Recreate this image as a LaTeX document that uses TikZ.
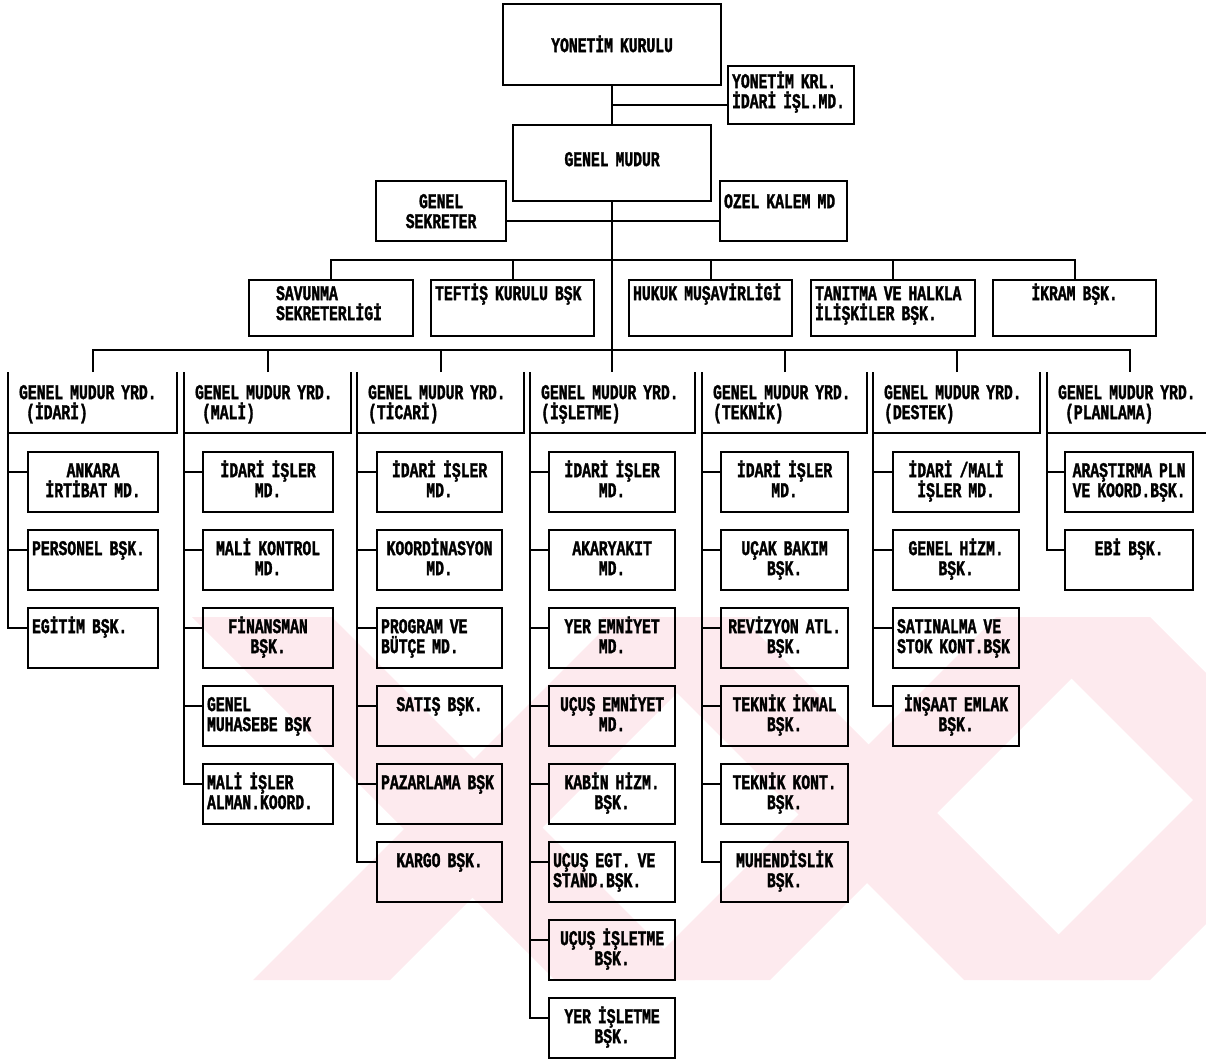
\documentclass[tikz,border=0pt]{standalone}
\usepackage{fontspec}
\newfontfamily\prnfont{Liberation Mono}[FakeStretch=0.70, FakeBold=1.5]
\definecolor{wmpink}{RGB}{253,234,238}
\tikzset{
    box/.style={draw, line width=2.2pt, anchor=north west, inner xsep=4pt, inner ysep=0pt, align=center}, % every framed unit
    dept/.style={box, text width=#1, text height=25pt, text depth=35pt}, % units under a deputy
    deputy/.style={box, draw=none, inner xsep=10pt, text width=#1, text height=26pt, text depth=33pt, align=left}, % deputy heads, open on top
    office/.style={box, text width=#1, text height=20pt, text depth=36pt}, % offices under the general manager
    link/.style={line width=1.9pt}
}

\begin{document}
\begin{tikzpicture}[x=1pt, y=-1pt, every node/.style={font=\prnfont\bfseries\fontsize{21}{20}\selectfont}]
    \useasboundingbox (0,0) rectangle (1206,1059);

    % faint watermark behind the chart
    \begin{scope}
        \clip (0,617) rectangle (1206,980);
        \foreach \a in {253,633,1013}
            \fill[wmpink] (\a,980) -- ++(137,0) -- ++(363,-363) -- ++(-137,0) -- cycle;
        \foreach \b in {192,601,1010}
            \fill[wmpink] (\b,617) -- ++(140,0) -- ++(363,363) -- ++(-140,0) -- cycle;
    \end{scope}

    % top
    \node[box, text width=210pt, text height=48pt, text depth=33pt] (yk) at (502,3) {YONETİM KURULU};
    \node[box, text width=118pt, text height=22pt, text depth=36pt, align=left] (ykid) at (727,65) {YONETİM KRL.\\İDARİ İŞL.MD.};
    \node[box, text width=190pt, text height=41pt, text depth=35pt] (gm) at (512,124) {GENEL MUDUR};
    \node[box, text width=122pt, text height=27pt, text depth=33pt] (gs) at (375,180) {GENEL\\SEKRETER};
    \node[box, text width=119pt, text height=27pt, text depth=33pt, align=left] (ozel) at (719,180) {OZEL KALEM MD};

    \draw[link] (yk.south) -- (gm.north);
    \draw[link] ([yshift=-10pt]ykid.west) -- ([yshift=-10pt]ykid.west -| yk.south);
    \draw[link] ([yshift=-10pt]gs.east) -- ([yshift=-10pt]ozel.west);

    % offices
    \node[office=110pt, inner xsep=27pt, align=left] (sav) at (248,279) {SAVUNMA\\SEKRETERLİGİ};
    \node[office=155pt, align=left] (tef) at (430,279) {TEFTİŞ KURULU BŞK};
    \node[office=155pt, align=left] (huk) at (628,279) {HUKUK MUŞAVİRLİGİ};
    \node[office=156pt, align=left] (tan) at (810,279) {TANITMA VE HALKLA\\İLİŞKİLER BŞK.};
    \node[office=155pt] (ikr) at (992,279) {İKRAM BŞK.};

    \coordinate (bus2) at (0,260);
    \draw[link] (sav.north) |- (bus2 -| ikr.north) -- (ikr.north);
    \foreach \n in {tef,huk,tan}
        \draw[link] (\n.north) -- (\n.north |- bus2);

    % deputies
    \node[deputy=147pt] (gidari) at (8,372) {GENEL MUDUR YRD.\\~(İDARİ)};
    \node[deputy=145pt] (gmali) at (184,372) {GENEL MUDUR YRD.\\~(MALİ)};
    \node[deputy=145pt] (gticari) at (357,372) {GENEL MUDUR YRD.\\(TİCARİ)};
    \node[deputy=143pt] (gisletme) at (530,372) {GENEL MUDUR YRD.\\(İŞLETME)};
    \node[deputy=143pt] (gteknik) at (702,372) {GENEL MUDUR YRD.\\(TEKNİK)};
    \node[deputy=145pt] (gdestek) at (873,372) {GENEL MUDUR YRD.\\(DESTEK)};
    \node[deputy=143pt] (gplan) at (1047,372) {GENEL MUDUR YRD.\\~(PLANLAMA)};

    \foreach \g in {gidari,gmali,gticari,gisletme,gteknik,gdestek,gplan}
        \draw[link] (\g.north west) |- (\g.south east) -- (\g.north east);

    \coordinate (bus) at (0,350);
    \draw[link] (gidari.north) |- (bus -| gplan.north) -- (gplan.north);
    \foreach \g in {gmali,gticari,gteknik,gdestek}
        \draw[link] (\g.north) -- (\g.north |- bus);
    \draw[link] (gm.south) -- (gm.south |- gisletme.north);

    % units
    \foreach \n/\a/\t [count=\i from 0] in {ank/center/{ANKARA\\İRTİBAT MD.}, per/left/{PERSONEL BŞK.},
            egt/left/{EGİTİM BŞK.}}{
        \node[dept=122pt, align=\a] (\n) at (27,{451+78*\i}) {\t};
        \draw[link] (gidari.south west) |- ([yshift=-21pt]\n.north west);
    }
    \foreach \n/\a/\t [count=\i from 0] in {mid/center/{İDARİ İŞLER\\MD.}, mkon/center/{MALİ KONTROL\\MD.},
            fin/center/{FİNANSMAN\\BŞK.}, muh/left/{GENEL\\MUHASEBE BŞK}, mal/left/{MALİ İŞLER\\ALMAN.KOORD.}}{
        \node[dept=122pt, align=\a] (\n) at (202,{451+78*\i}) {\t};
        \draw[link] (gmali.south west) |- ([yshift=-21pt]\n.north west);
    }
    \foreach \n/\a/\t [count=\i from 0] in {tid/center/{İDARİ İŞLER\\MD.}, koo/center/{KOORDİNASYON\\MD.},
            prg/left/{PROGRAM VE\\BÜTÇE MD.}, sat/center/{SATIŞ BŞK.}, paz/left/{PAZARLAMA BŞK},
            kar/center/{KARGO BŞK.}}{
        \node[dept=117pt, align=\a] (\n) at (376,{451+78*\i}) {\t};
        \draw[link] (gticari.south west) |- ([yshift=-21pt]\n.north west);
    }
    \foreach \n/\a/\t [count=\i from 0] in {iid/center/{İDARİ İŞLER\\MD.}, aka/center/{AKARYAKIT\\MD.},
            yem/center/{YER EMNİYET\\MD.}, uem/center/{UÇUŞ EMNİYET\\MD.}, kab/center/{KABİN HİZM.\\BŞK.},
            ueg/left/{UÇUŞ EGT. VE\\STAND.BŞK.}, uis/center/{UÇUŞ İŞLETME\\BŞK.}, yis/center/{YER İŞLETME\\BŞK.}}{
        \node[dept=118pt, align=\a] (\n) at (548,{451+78*\i}) {\t};
        \draw[link] (gisletme.south west) |- ([yshift=-21pt]\n.north west);
    }
    \foreach \n/\a/\t [count=\i from 0] in {kid/center/{İDARİ İŞLER\\MD.}, ubk/center/{UÇAK BAKIM\\BŞK.},
            rev/center/{REVİZYON ATL.\\BŞK.}, tik/center/{TEKNİK İKMAL\\BŞK.}, tko/center/{TEKNİK KONT.\\BŞK.},
            muh2/center/{MUHENDİSLİK\\BŞK.}}{
        \node[dept=119pt, align=\a] (\n) at (720,{451+78*\i}) {\t};
        \draw[link] (gteknik.south west) |- ([yshift=-21pt]\n.north west);
    }
    \foreach \n/\a/\t [count=\i from 0] in {did/center/{İDARİ /MALİ\\İŞLER MD.}, ghz/center/{GENEL HİZM.\\BŞK.},
            stn/left/{SATINALMA VE\\STOK KONT.BŞK}, ins/center/{İNŞAAT EMLAK\\BŞK.}}{
        \node[dept=118pt, align=\a] (\n) at (892,{451+78*\i}) {\t};
        \draw[link] (gdestek.south west) |- ([yshift=-21pt]\n.north west);
    }
    \foreach \n/\a/\t [count=\i from 0] in {ars/center/{ARAŞTIRMA PLN\\VE KOORD.BŞK.}, ebi/center/{EBİ BŞK.}}{
        \node[dept=120pt, align=\a] (\n) at (1064,{451+78*\i}) {\t};
        \draw[link] (gplan.south west) |- ([yshift=-21pt]\n.north west);
    }
\end{tikzpicture}
\end{document}
